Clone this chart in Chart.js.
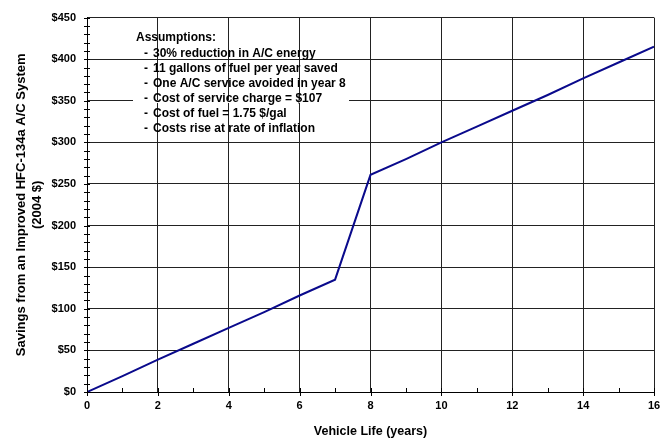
<!DOCTYPE html>
<html>
<head>
<meta charset="utf-8">
<script src="https://cdn.jsdelivr.net/npm/chart.js@4.4.1/dist/chart.umd.min.js"></script>
<style>
  html, body { margin: 0; padding: 0; background: #fff; }
  #wrap { width: 670px; height: 439px; position: relative; }
</style>
</head>
<body>
<div id="wrap"><canvas id="savingsChart"></canvas></div>
<script>
/* Savings from an improved HFC-134a A/C system, by vehicle year */
const years   = [0, 1, 2, 3, 4, 5, 6, 7, 8, 9, 10, 11, 12, 13, 14, 15, 16];
const savings = [0, 19, 39, 58, 77, 96, 116, 135, 261, 280, 300, 319, 338, 357, 377, 396, 415];

const assumptionsTitle = 'Assumptions:';
const assumptions = [
  '30% reduction in A/C energy',
  '11 gallons of fuel per year saved',
  'One A/C service avoided in year 8',
  'Cost of service charge = $107',
  'Cost of fuel = 1.75 $/gal',
  'Costs rise at rate of inflation'
];

const FONT = '"Liberation Sans", Arial, sans-serif';

/* minor tick marks: every $10 on y, every year on x */
const minorTicks = {
  id: 'minorTicks',
  afterDraw(chart) {
    const { ctx, scales: { x, y } } = chart;
    ctx.save();
    ctx.strokeStyle = '#000';
    ctx.lineWidth = 1;
    ctx.beginPath();
    for (let v = 0; v <= 450; v += 10) {
      const py = Math.round(y.getPixelForValue(v)) + 0.5;
      ctx.moveTo(x.left - 3, py);
      ctx.lineTo(x.left + 3, py);
    }
    for (let v = 0; v <= 16; v += 1) {
      const px = Math.round(x.getPixelForValue(v)) + 0.5;
      ctx.moveTo(px, y.bottom - 4);
      ctx.lineTo(px, y.bottom + (v % 2 === 0 ? 4 : 0));
    }
    ctx.stroke();
    ctx.restore();
  }
};

/* the assumptions note in the upper left of the plot */
const noteBox = {
  id: 'noteBox',
  beforeDatasetsDraw(chart) {
    const { ctx, scales: { y } } = chart;
    ctx.save();
    /* gap in the $350 gridline behind the note, as in the original */
    const gy = Math.round(y.getPixelForValue(350));
    ctx.fillStyle = '#fff';
    ctx.fillRect(133, gy - 1, 216, 3);
    ctx.fillStyle = '#000';
    ctx.font = 'bold 12px ' + FONT;
    ctx.textBaseline = 'middle';
    ctx.fillText(assumptionsTitle, 136, 38);
    assumptions.forEach((line, i) => {
      const ly = 54 + i * 15;
      ctx.fillText('-', 144, ly);
      ctx.fillText(line, 153, ly);
    });
    ctx.restore();
  }
};

new Chart(document.getElementById('savingsChart'), {
  type: 'line',
  data: {
    datasets: [{
      data: years.map((yr, i) => ({ x: yr, y: savings[i] })),
      borderColor: '#0a0a8c',
      borderWidth: 2,
      pointRadius: 0,
      tension: 0,
      fill: false
    }]
  },
  options: {
    responsive: true,
    maintainAspectRatio: false,
    animation: false,
    layout: { padding: { left: 0, right: 16, top: 15, bottom: 0 } },
    plugins: {
      legend: { display: false },
      tooltip: { enabled: false }
    },
    scales: {
      x: {
        type: 'linear',
        min: 0,
        max: 16,
        afterFit: (s) => { s.height = 47; },
        ticks: {
          stepSize: 2,
          color: '#000',
          padding: 7,
          font: { family: FONT, size: 11, weight: 'bold' }
        },
        grid: { color: '#222', drawTicks: false },
        border: { color: '#000', width: 1 },
        title: {
          display: true,
          text: 'Vehicle Life (years)',
          color: '#000',
          padding: { top: 4, bottom: 0 },
          font: { family: FONT, size: 12.5, weight: 'bold' }
        }
      },
      y: {
        min: 0,
        max: 450,
        afterFit: (s) => { s.width = 87; },
        ticks: {
          stepSize: 50,
          color: '#000',
          padding: 11,
          font: { family: FONT, size: 11, weight: 'bold' },
          callback: (v) => '$' + v
        },
        grid: { color: '#222', drawTicks: false },
        border: { color: '#000', width: 1 },
        title: {
          display: true,
          text: ['Savings from an Improved HFC-134a A/C System', '(2004 $)'],
          color: '#000',
          padding: { top: 13, bottom: 0 },
          font: { family: FONT, size: 13, weight: 'bold', lineHeight: 1.25 }
        }
      }
    }
  },
  plugins: [minorTicks, noteBox]
});
</script>
</body>
</html>
